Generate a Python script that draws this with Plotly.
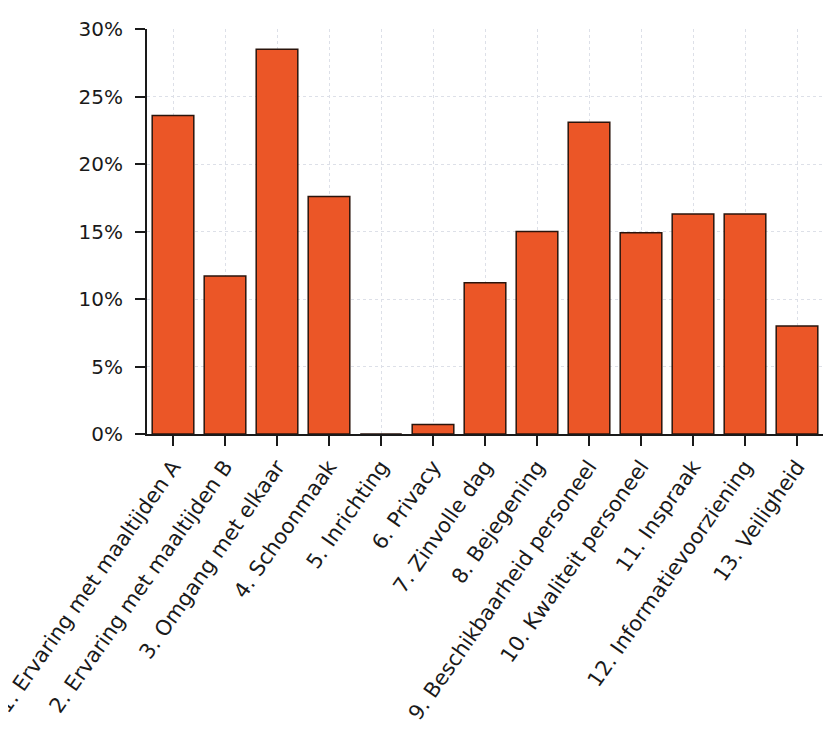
import plotly.graph_objects as go

categories = [
    "1. Ervaring met maaltijden A",
    "2. Ervaring met maaltijden B",
    "3. Omgang met elkaar",
    "4. Schoonmaak",
    "5. Inrichting",
    "6. Privacy",
    "7. Zinvolle dag",
    "8. Bejegening",
    "9. Beschikbaarheid personeel",
    "10. Kwaliteit personeel",
    "11. Inspraak",
    "12. Informatievoorziening",
    "13. Veiligheid",
]
values = [23.6, 11.7, 28.5, 17.6, 0.0, 0.7, 11.2, 15.0, 23.1, 14.9, 16.3, 16.3, 8.0]
y_ticks = [0, 5, 10, 15, 20, 25, 30]
y_tick_labels = ["0%", "5%", "10%", "15%", "20%", "25%", "30%"]

fig = go.Figure(
    go.Bar(
        x=categories,
        y=values,
        width=0.8,
        marker=dict(color="#EB5627", line=dict(color="#2a140c", width=1.5)),
    )
)

fig.update_layout(
    width=827,
    height=726,
    margin=dict(l=139, r=12, t=21, b=300),
    paper_bgcolor="white",
    plot_bgcolor="white",
    font=dict(family="DejaVu Sans", color="#1a1a1a"),
    showlegend=False,
)

fig.update_xaxes(
    type="category",
    range=[-0.5, 12.5],
    tickangle=-55,
    tickfont=dict(size=21),
    ticks="outside",
    ticklen=10,
    tickwidth=1.5,
    tickcolor="#1a1a1a",
    showline=True,
    linecolor="#1a1a1a",
    linewidth=2,
    showgrid=True,
    gridcolor="#dde0e8",
    griddash="dot",
    gridwidth=1,
    automargin=False,
)

fig.update_yaxes(
    range=[0, 30],
    tickvals=y_ticks,
    ticktext=y_tick_labels,
    tickfont=dict(size=20),
    ticks="outside",
    ticklen=10,
    tickwidth=2,
    tickcolor="#1a1a1a",
    ticklabelstandoff=8,
    showline=True,
    linecolor="#1a1a1a",
    linewidth=2,
    showgrid=True,
    gridcolor="#dde0e8",
    griddash="dot",
    gridwidth=1,
    zeroline=False,
    automargin=False,
)

fig.write_html("out.html")
